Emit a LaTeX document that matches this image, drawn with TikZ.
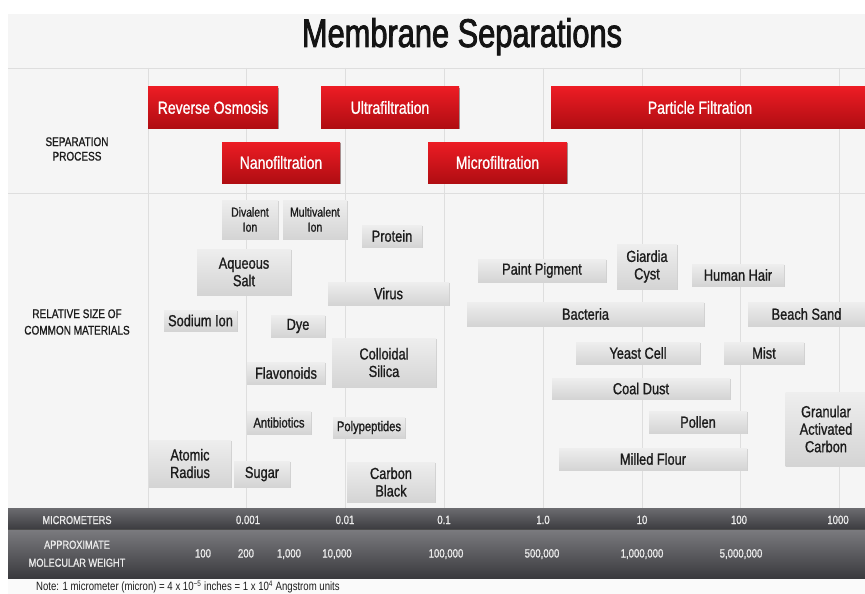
\documentclass[tikz,border=0pt]{standalone}
\usepackage{fontspec}
\setmainfont{Liberation Sans}[FakeStretch=0.8]
\newfontfamily\medfont{Liberation Sans}[FakeStretch=0.8, FakeBold=1]
\newfontfamily\titlefont{Liberation Sans}[FakeStretch=0.77, FakeBold=2]
\usetikzlibrary{shadows}
\definecolor{panel}{HTML}{F5F5F5}
\definecolor{gridc}{HTML}{DEDEDE}
\definecolor{redtop}{HTML}{EC1C24}
\definecolor{redbot}{HTML}{B00D12}
\definecolor{graytop}{HTML}{EEEEEE}
\definecolor{graybot}{HTML}{D4D4D4}
\definecolor{boxtext}{HTML}{1C1C1C}
\definecolor{bandAtop}{HTML}{6C6C70}
\definecolor{bandAbot}{HTML}{3C3C40}
\definecolor{bandBtop}{HTML}{7A7A7E}
\definecolor{bandBbot}{HTML}{3A3A3E}
\definecolor{bandtext}{HTML}{ECECEC}
\definecolor{notebg}{HTML}{FAFAFA}
\begin{document}
\begin{tikzpicture}[x=1pt,y=-1pt,
  rbox/.style={inner sep=0pt, top color=redtop, bottom color=redbot, text=white,
    font=\medfont\fontsize{17.5}{19}\selectfont,
    drop shadow={shadow xshift=0.6pt, shadow yshift=-1pt, opacity=0.35, fill=black}},
  gbox/.style={inner sep=0pt, top color=graytop, bottom color=graybot, text=boxtext, align=center,
    font=\medfont\fontsize{16}{17.5}\selectfont,
    drop shadow={shadow xshift=0.5pt, shadow yshift=-0.8pt, opacity=0.15, fill=black}},
  gsmall/.style={font=\medfont\fontsize{13}{15}\selectfont},
  gmid/.style={font=\medfont\fontsize{14}{16}\selectfont},
  sidelbl/.style={align=center, text=boxtext},
  bandlbl/.style={anchor=base, text=bandtext, font=\medfont\fontsize{11.5}{13}\selectfont},
  bandnum/.style={anchor=base, text=bandtext, font=\medfont\fontsize{12}{14}\selectfont},
  gridline/.style={draw=gridc, line width=0.8pt}]
\useasboundingbox (0,0) rectangle (865,594);
\clip (0,0) rectangle (865,594);
\fill[white] (0,0) rectangle (865,594);
\fill[panel] (8,14) rectangle (865,508);
\fill[notebg] (8,578) rectangle (865,594);
% grid
\foreach \gx in {148,246.5,345,444,543,642,740,839}
  \draw[gridline] (\gx,68) -- (\gx,508);
\draw[gridline] (8,68) -- (865,68);
\draw[gridline] (8,193) -- (865,193);
% title
\node[anchor=base, font=\titlefont\fontsize{40}{44}\selectfont, text=black!92] (title) at (462,47) {Membrane Separations};
% side labels
\node[sidelbl, font=\medfont\fontsize{12.5}{14.5}\selectfont] (seplbl) at (77,149) {SEPARATION\\PROCESS};
\node[sidelbl, font=\medfont\fontsize{12.5}{16.5}\selectfont] (rellbl) at (77,322) {RELATIVE SIZE OF\\COMMON MATERIALS};
% separation processes
\node[rbox, minimum width=130pt, minimum height=41pt] (ro) at (213,107.5) {Reverse Osmosis};
\node[rbox, minimum width=138pt, minimum height=41pt] (uf) at (390,107.5) {Ultrafiltration};
\node[rbox, minimum width=314pt, minimum height=41pt] (pf) at (708,107.5) {\hspace*{-16pt}Particle Filtration};
\node[rbox, minimum width=118pt, minimum height=41pt] (nf) at (281,162.5) {Nanofiltration};
\node[rbox, minimum width=139pt, minimum height=41pt] (mf) at (497.5,162.5) {Microfiltration};
% materials
\node[gbox, gsmall, minimum width=56pt, minimum height=39pt] (divalent) at (250,219.5) {Divalent\\Ion};
\node[gbox, gsmall, minimum width=64pt, minimum height=39pt] (multivalent) at (315,219.5) {Multivalent\\Ion};
\node[gbox, minimum width=60pt, minimum height=22pt] (protein) at (392,236) {Protein};
\node[gbox, minimum width=94pt, minimum height=46pt] (aqsalt) at (244,272) {Aqueous\\Salt};
\node[gbox, minimum width=121pt, minimum height=23pt] (virus) at (388.5,293.5) {Virus};
\node[gbox, minimum width=73pt, minimum height=21pt] (sodium) at (200.5,320.5) {Sodium Ion};
\node[gbox, minimum width=54pt, minimum height=22pt] (dye) at (298,326) {Dye};
\node[gbox, minimum width=104pt, minimum height=49pt] (silica) at (384,362.5) {Colloidal\\Silica};
\node[gbox, minimum width=78pt, minimum height=22pt] (flavo) at (286,373) {Flavonoids};
\node[gbox, gmid, minimum width=64pt, minimum height=23pt] (antib) at (279,422.5) {Antibiotics};
\node[gbox, gmid, minimum width=72pt, minimum height=21pt] (polyp) at (369,427.5) {Polypeptides};
\node[gbox, minimum width=82pt, minimum height=47pt] (atomic) at (190,463.5) {Atomic\\Radius};
\node[gbox, minimum width=56pt, minimum height=26pt] (sugar) at (262,474) {Sugar};
\node[gbox, minimum width=88pt, minimum height=40pt] (carbon) at (391,482) {Carbon\\Black};
\node[gbox, minimum width=128pt, minimum height=23pt] (paint) at (542,270.5) {Paint Pigment};
\node[gbox, minimum width=60pt, minimum height=45pt] (giardia) at (647,266.5) {Giardia\\Cyst};
\node[gbox, minimum width=92pt, minimum height=22pt] (hair) at (738,275) {Human Hair};
\node[gbox, minimum width=237pt, minimum height=24pt] (bacteria) at (585.5,314) {Bacteria};
\node[gbox, minimum width=117pt, minimum height=24pt] (sand) at (806.5,314) {Beach Sand};
\node[gbox, minimum width=124pt, minimum height=22pt] (yeast) at (638,353) {Yeast Cell};
\node[gbox, minimum width=80pt, minimum height=22pt] (mist) at (764,353) {Mist};
\node[gbox, minimum width=178pt, minimum height=21pt] (coal) at (641,388.5) {Coal Dust};
\node[gbox, minimum width=98pt, minimum height=22pt] (pollen) at (698,422) {Pollen};
\node[gbox, minimum width=81pt, minimum height=74pt] (gac) at (826,429) {Granular\\Activated\\Carbon};
\node[gbox, minimum width=188pt, minimum height=22pt] (flour) at (653,459) {Milled Flour};
% bands
\shade[top color=bandAtop, bottom color=bandAbot] (8,508) rectangle (865,529);
\shade[top color=bandBtop, bottom color=bandBbot] (8,530) rectangle (865,578);
\draw[black!70, line width=0.6pt] (8,529.5) -- (865,529.5);
\node[bandlbl] (microlbl) at (77,524) {MICROMETERS};
\node[bandlbl] (approxlbl) at (77,548.7) {APPROXIMATE};
\node[bandlbl] (mwlbl) at (77,566.7) {MOLECULAR WEIGHT};
\node[bandnum] (m1) at (248,524) {0.001};
\node[bandnum] (m2) at (345,524) {0.01};
\node[bandnum] (m3) at (444,524) {0.1};
\node[bandnum] (m4) at (543,524) {1.0};
\node[bandnum] (m5) at (642,524) {10};
\node[bandnum] (m6) at (739,524) {100};
\node[bandnum] (m7) at (838,524) {1000};
\node[bandnum] (w1) at (203,557.5) {100};
\node[bandnum] (w2) at (246,557.5) {200};
\node[bandnum] (w3) at (289,557.5) {1,000};
\node[bandnum] (w4) at (337,557.5) {10,000};
\node[bandnum] (w5) at (446,557.5) {100,000};
\node[bandnum] (w6) at (542,557.5) {500,000};
\node[bandnum] (w7) at (642,557.5) {1,000,000};
\node[bandnum] (w8) at (741,557.5) {5,000,000};
% note
\node[anchor=base west, inner sep=0pt, text=boxtext, font=\fontsize{12}{14}\selectfont] (note) at (36,590.8) {Note: 1 micrometer (micron) = 4 x 10\textsuperscript{−5} inches = 1 x 10\textsuperscript{4} Angstrom units};
\end{tikzpicture}
\end{document}
